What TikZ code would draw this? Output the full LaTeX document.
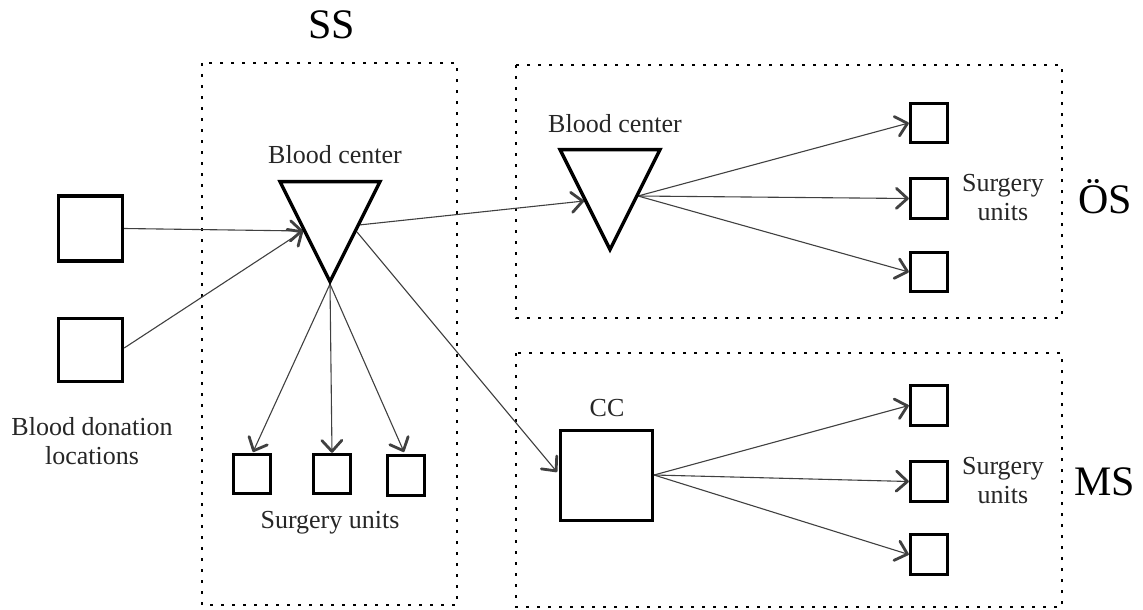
\documentclass[tikz,border=0pt]{standalone}
\usepackage{fontspec}
\setmainfont{Liberation Serif}
\usetikzlibrary{arrows.meta,shapes.geometric}
\begin{document}
\begin{tikzpicture}[x=1pt,y=-1pt,
  sq/.style={draw,line width=3.4pt,inner sep=0pt,fill=white},
  tri/.style={draw,line width=3.4pt,isosceles triangle,isosceles triangle stretches,
    shape border rotate=270,minimum width=100pt,minimum height=100pt,inner sep=0pt,fill=white},
  region/.style={line width=2.6pt,dash pattern=on 2.6pt off 8.4pt},
  conn/.style={line width=1.1pt,draw=black!75,-{Straight Barb[length=11pt,width=20pt,line width=2.8pt,round]}},
  lbl/.style={font=\fontsize{26}{29}\selectfont,text=black!85,align=center,inner sep=0pt},
  big/.style={font=\fontsize{42}{46}\selectfont,inner sep=0pt}]
\useasboundingbox (0,0) rectangle (1143,610);

% regions
\draw[region] (202,63) rectangle (457,605);
\draw[region] (516,65) rectangle (1062,318);
\draw[region] (516,353) rectangle (1062,607);
\node[big] (lss) at (332,25) {SS};
\node[big] (los) at (1105,197) {ÖS};
\node[big] (lms) at (1105,482) {MS};

% connection points
\coordinate (t1in) at (303,231);
\coordinate (t1apex) at (330,284);
\coordinate (t1out1) at (359,225);
\coordinate (t1out2) at (357,232);
\coordinate (t2in) at (584,201);
\coordinate (t2out) at (638,196);
\coordinate (ccin) at (557,472);
\coordinate (ccout) at (654,475);

% source boxes
\node[sq,minimum width=64pt,minimum height=65pt] (d1) at (90.5,228.5) {};
\node[sq,minimum width=64pt,minimum height=63pt] (d2) at (90.5,350) {};
\draw[conn] (d1.east) -- (t1in);
\draw[conn] (d2.east |- 0,348) -- (t1in);

% SS surgery units
\node[sq,minimum width=37pt,minimum height=39pt] (su1) at (252,474) {};
\node[sq,minimum width=37pt,minimum height=39pt] (su2) at (332,474) {};
\node[sq,minimum width=37pt,minimum height=40pt] (su3) at (406,475.5) {};
\draw[conn] (t1apex) -- (253,452);
\draw[conn] (t1apex) -- (su2.north);
\draw[conn] (t1apex) -- (404,452);

% CC and links between regions
\node[sq,minimum width=92pt,minimum height=90pt] (cc) at (606.5,475.5) {};
\draw[conn] (t1out1) -- (t2in);
\draw[conn] (t1out2) -- (ccin);

% ÖS surgery units
\node[sq,minimum width=37pt,minimum height=39pt] (o1) at (929,123) {};
\node[sq,minimum width=37pt,minimum height=40pt] (o2) at (929,198.5) {};
\node[sq,minimum width=37pt,minimum height=39pt] (o3) at (929,272) {};
\draw[conn] (t2out) -- (o1.west);
\draw[conn] (t2out) -- (o2.west);
\draw[conn] (t2out) -- (o3.west);

% MS surgery units
\node[sq,minimum width=37pt,minimum height=40pt] (m1) at (929,405.5) {};
\node[sq,minimum width=37pt,minimum height=40pt] (m2) at (929,481.5) {};
\node[sq,minimum width=37pt,minimum height=40pt] (m3) at (929,554.5) {};
\draw[conn] (ccout) -- (m1.west);
\draw[conn] (ccout) -- (m2.west);
\draw[conn] (ccout) -- (m3.west);

% triangles (blood centers)
\node[tri,anchor=apex] (t1) at (330,286) {};
\node[tri,anchor=apex] (t2) at (610,254) {};

% labels
\node[lbl] (bc1) at (335,155) {Blood center};
\node[lbl] (bc2) at (615,124) {Blood center};
\node[lbl] (ccl) at (607,408) {CC};
\node[lbl] (sus) at (330,523) {Surgery units};
\node[lbl] (suo) at (1003,198) {Surgery\\units};
\node[lbl] (sum) at (1003,481) {Surgery\\units};
\node[lbl] (bdl) at (92,441) {Blood donation\\locations};
\end{tikzpicture}
\end{document}
